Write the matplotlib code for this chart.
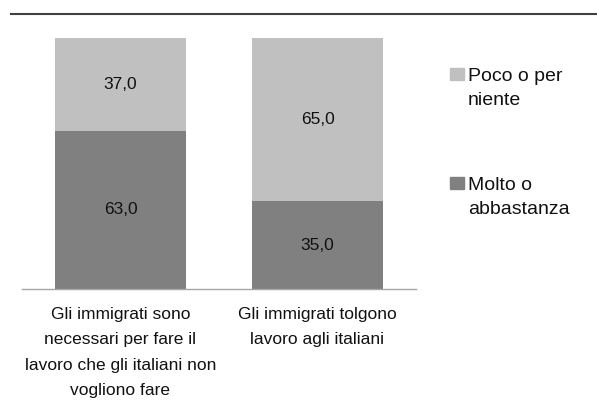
import numpy as np
import matplotlib.pyplot as plt
from matplotlib.lines import Line2D
from matplotlib.patches import Rectangle

plt.rcParams['font.family'] = ['Liberation Sans', 'DejaVu Sans']

categories = ["Gli immigrati sono\nnecessari per fare il\nlavoro che gli italiani non\nvogliono fare",
              "Gli immigrati tolgono\nlavoro agli italiani"]
molto = [63.0, 35.0]
poco = [37.0, 65.0]
series_names = ["Poco o per\nniente", "Molto o\nabbastanza"]

c_dark = "#808080"
c_light = "#C0C0C0"
txt = "#111111"
fs = 12.5
W, H = 597, 412

fig = plt.figure(figsize=(5.97, 4.12), dpi=100)
ax = fig.add_axes([22/W, 1-289/H, 394/W, 251/H])

x = np.arange(len(categories))
ax.bar(x, molto, width=0.665, color=c_dark)
ax.bar(x, poco, bottom=molto, width=0.665, color=c_light)

for i in range(len(categories)):
    ax.text(x[i], molto[i]/2, f"{molto[i]:.1f}".replace(".", ","), ha="center", va="center",
            fontsize=fs, color=txt)
    ax.text(x[i], molto[i] + poco[i]/2, f"{poco[i]:.1f}".replace(".", ","), ha="center", va="center",
            fontsize=fs, color=txt)

ax.set_xlim(-0.5, 1.5)
ax.set_ylim(0, 100)
ax.set_xticks(x)
ax.set_xticklabels(categories, fontsize=fs, color=txt, linespacing=1.87)
ax.tick_params(axis="x", length=0, pad=13)
ax.set_yticks([])
for s in ["top", "right", "left"]:
    ax.spines[s].set_visible(False)
ax.spines["bottom"].set_color("#A6A6A6")
ax.spines["bottom"].set_linewidth(1)

# top rule
fig.add_artist(Line2D([11/W, 1], [1-14/H, 1-14/H], color="#404040", lw=1.5,
                      transform=fig.transFigure))

# legend, drawn by hand so the square sits on the first line
for k, (name, col) in enumerate(zip(series_names, [c_light, c_dark])):
    top = 68 + 109*k
    fig.add_artist(Rectangle((450/W, 1-(top+12)/H), 14/W, 12/H, color=col,
                             transform=fig.transFigure))
    fig.text(468/W, 1-top/H, name, ha="left", va="top", fontsize=14, color=txt,
             linespacing=1.55)

fig.savefig("out.png", dpi=100)
